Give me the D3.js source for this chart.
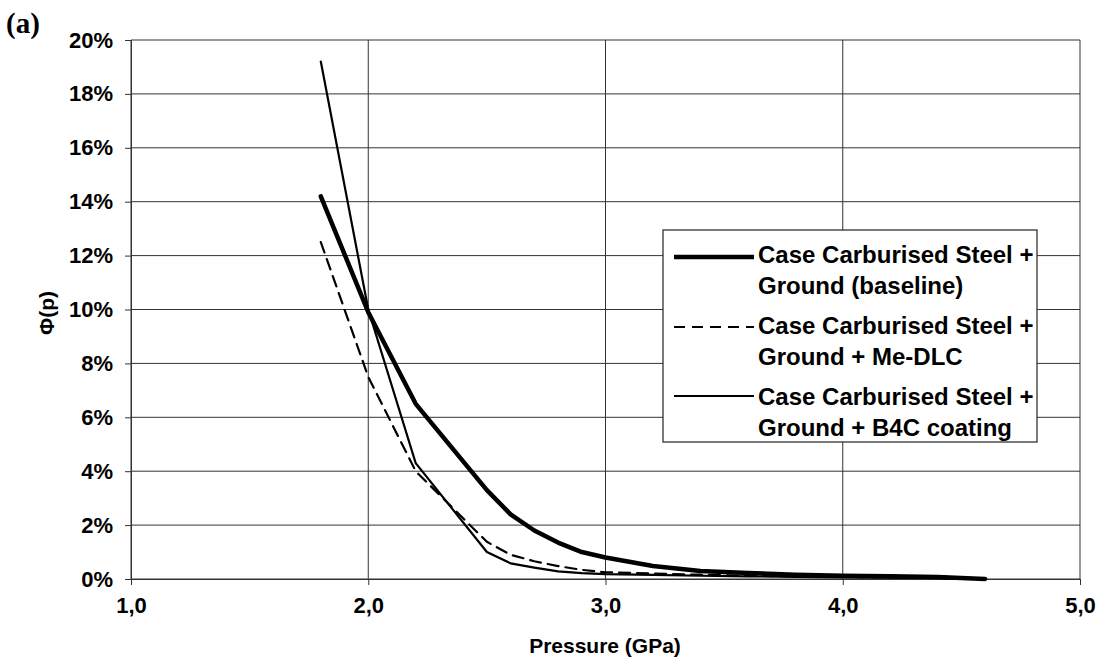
<!DOCTYPE html>
<html>
<head>
<meta charset="utf-8">
<script src="https://d3js.org/d3.v7.min.js"></script>
<style>
  html, body { margin: 0; padding: 0; background: #fff; }
  svg { display: block; }
</style>
</head>
<body>
<svg id="chart" width="1101" height="668"></svg>
<script>
// Pressure (GPa) at which the damage fraction was evaluated
const pressure = [1.8, 2.0, 2.2, 2.5, 2.6, 2.7, 2.8, 2.9, 3.0, 3.2, 3.4, 3.6, 3.8, 4.0, 4.2, 4.4, 4.6];

// Φ(p) in percent for each surface treatment
const baseline = [14.2, 9.9, 6.5, 3.3, 2.4, 1.8, 1.35, 1.0, 0.8, 0.48, 0.3, 0.22, 0.16, 0.12, 0.1, 0.07, 0.0];
const meDlc    = [12.5, 7.5, 4.0, 1.38, 0.9, 0.66, 0.48, 0.34, 0.25, 0.2, 0.16, 0.12, 0.1, 0.08, 0.06, 0.04, 0.0];
const b4c      = [19.2, 10.0, 4.3, 1.0, 0.58, 0.42, 0.28, 0.22, 0.18, 0.15, 0.12, 0.1, 0.08, 0.06, 0.05, 0.03, 0.0];

const seriesNames = [
  ["Case Carburised Steel +", "Ground (baseline)"],
  ["Case Carburised Steel +", "Ground + Me-DLC"],
  ["Case Carburised Steel +", "Ground + B4C coating"]
];

const xTicks = [1, 2, 3, 4, 5];
const yTicks = [0, 2, 4, 6, 8, 10, 12, 14, 16, 18, 20];

const sans = "'Liberation Sans', Arial, sans-serif";
const serif = "'Liberation Serif', 'Times New Roman', serif";

const svg = d3.select("#chart");

const x = d3.scaleLinear().domain([1, 5]).range([131, 1080]);
const y = d3.scaleLinear().domain([0, 20]).range([579, 40]);

const gridColor = "#333";

// Horizontal gridlines
svg.append("g").selectAll("line").data(yTicks).join("line")
  .attr("x1", x(1)).attr("x2", x(5))
  .attr("y1", d => y(d)).attr("y2", d => y(d))
  .attr("stroke", gridColor).attr("stroke-width", 1);

// Vertical gridlines
svg.append("g").selectAll("line").data(xTicks).join("line")
  .attr("x1", d => x(d)).attr("x2", d => x(d))
  .attr("y1", y(0)).attr("y2", y(20))
  .attr("stroke", gridColor).attr("stroke-width", 1);

// Axes
const yAxis = d3.axisLeft(y).tickValues(yTicks).tickSize(6).tickPadding(12)
  .tickFormat(d => d + "%");
const gy = svg.append("g").attr("transform", `translate(${x(1)},0)`).call(yAxis);
gy.select(".domain").attr("stroke", gridColor);
gy.selectAll(".tick line").attr("stroke", gridColor);
gy.selectAll("text").style("font-family", sans).style("font-size", "22px")
  .style("font-weight", "bold").attr("fill", "#000");

const xAxis = d3.axisBottom(x).tickValues(xTicks).tickSize(6).tickPadding(12)
  .tickFormat(d => d3.format(".1f")(d).replace(".", ","));
const gx = svg.append("g").attr("transform", `translate(0,${y(0)})`).call(xAxis);
gx.select(".domain").attr("stroke", gridColor);
gx.selectAll(".tick line").attr("stroke", gridColor);
gx.selectAll("text").style("font-family", sans).style("font-size", "22px")
  .style("font-weight", "bold").attr("fill", "#000");

// Axis titles
svg.append("text")
  .attr("x", 605).attr("y", 653)
  .attr("text-anchor", "middle")
  .style("font-family", sans).style("font-size", "21px").style("font-weight", "bold")
  .text("Pressure (GPa)");

svg.append("text")
  .attr("transform", "translate(54,313) rotate(-90)")
  .attr("text-anchor", "middle")
  .style("font-family", sans).style("font-size", "21px").style("font-weight", "bold")
  .text("Φ(p)");

// Panel label
svg.append("text")
  .attr("x", 6).attr("y", 33)
  .style("font-family", serif).style("font-size", "29px").style("font-weight", "bold")
  .text("(a)");

// Series
const line = d3.line()
  .x(d => x(d[0]))
  .y(d => y(d[1]));

const styles = [
  { values: baseline, width: 4.5, dash: null },
  { values: meDlc, width: 2.2, dash: "11,7" },
  { values: b4c, width: 2.2, dash: null }
];

const drawOrder = [1, 2, 0];
drawOrder.forEach(i => {
  const s = styles[i];
  svg.append("path")
    .datum(pressure.map((p, k) => [p, s.values[k]]))
    .attr("fill", "none")
    .attr("stroke", "#000")
    .attr("stroke-width", s.width)
    .attr("stroke-linejoin", "round")
    .attr("stroke-linecap", "round")
    .attr("stroke-dasharray", s.dash)
    .attr("d", line);
});

// Legend
const legend = svg.append("g");
legend.append("rect")
  .attr("x", 663).attr("y", 230).attr("width", 374).attr("height", 212)
  .attr("fill", "#fff").attr("stroke", "#222").attr("stroke-width", 1.2);

const sampleY = [257, 327, 396];
const textY = [263, 334, 405];
styles.forEach((s, i) => {
  legend.append("line")
    .attr("x1", 674).attr("x2", 754)
    .attr("y1", sampleY[i]).attr("y2", sampleY[i])
    .attr("stroke", "#000")
    .attr("stroke-width", s.width)
    .attr("stroke-dasharray", s.dash);
  const t = legend.append("text")
    .attr("x", 758).attr("y", textY[i])
    .style("font-family", sans).style("font-size", "24px").style("font-weight", "bold");
  seriesNames[i].forEach((ln, j) => {
    t.append("tspan").attr("x", 758).attr("dy", j === 0 ? 0 : 31).text(ln);
  });
});
</script>
</body>
</html>
